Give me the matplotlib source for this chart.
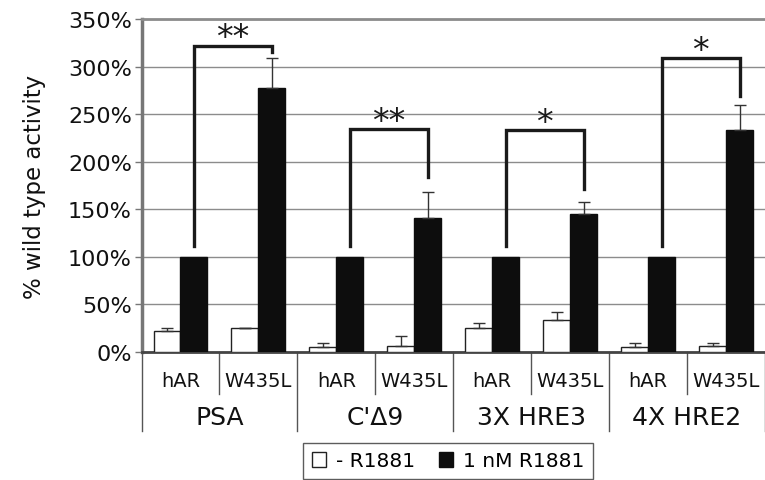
import numpy as np
import matplotlib
matplotlib.use("Agg")
import matplotlib.pyplot as plt
from matplotlib.patches import Patch

groups = ["PSA", "C'Δ9", "3X HRE3", "4X HRE2"]
subs = ["hAR", "W435L"]

no_r1881 = [22, 25, 5, 6, 25, 33.5, 5.5, 6]
no_r1881_err = [3, 0.5, 4.5, 11, 6, 8.5, 4, 3.5]
with_r1881 = [100, 277.5, 100, 141, 100, 145.5, 100, 233]
with_r1881_err = [0, 32, 0, 27, 0, 12.5, 0, 27]

# significance brackets: (group index, top, right leg end, label)
brackets = [(0, 322, 315, "**"), (1, 234, 184, "**"), (2, 233, 171, "*"), (3, 309, 269, "*")]

W, H = 765, 481
fig = plt.figure(figsize=(W / 100, H / 100), dpi=100)
ax = fig.add_axes([141.5 / W, 128 / H, (W - 141.5) / W, 333 / H])

n = len(no_r1881)
x = np.arange(n) + 0.5
bw = 0.346

ax.bar(x - bw / 2, no_r1881, bw, color="white", edgecolor="#222222", linewidth=1, zorder=3)
ax.bar(x + bw / 2, with_r1881, bw, color="#0d0d0d", edgecolor="#0d0d0d", linewidth=1, zorder=3)
ax.errorbar(x - bw / 2, no_r1881, yerr=[np.zeros(n), no_r1881_err], fmt="none",
            ecolor="#333333", elinewidth=1, capsize=4, capthick=1, zorder=4)
errmask = np.array(with_r1881_err) > 0
ax.errorbar((x + bw / 2)[errmask], np.array(with_r1881)[errmask],
            yerr=[np.zeros(errmask.sum()), np.array(with_r1881_err)[errmask]], fmt="none",
            ecolor="#333333", elinewidth=1, capsize=4, capthick=1, zorder=4)

for g, top, rend, lab in brackets:
    xl = x[2 * g] + bw / 2
    xr = x[2 * g + 1] + bw / 2
    ax.plot([xl, xl, xr, xr], [111, top, top, rend], color="#1a1a1a", lw=2.4,
            solid_joinstyle="miter", zorder=5, clip_on=False)
    ax.text((xl + xr) / 2, top - 9, lab, ha="center", va="bottom", fontsize=24, color="#1a1a1a")

ax.set_xlim(0, n)
ax.set_ylim(0, 350)
ax.set_yticks(np.arange(0, 351, 50))
ax.set_yticklabels([f"{v}%" for v in range(0, 351, 50)], fontsize=16, color="#111111")
ax.yaxis.grid(True, color="#8c8c8c", lw=1, zorder=0)
ax.set_axisbelow(True)
ax.tick_params(axis="y", length=5, width=1, color="#777777", pad=2)
ax.set_xticks([])
ax.set_ylabel("% wild type activity", fontsize=16.5, color="#111111", labelpad=16)

ax.spines["right"].set_visible(False)
ax.spines["top"].set_color("#8c8c8c")
ax.spines["top"].set_linewidth(2)
ax.spines["left"].set_color("#777777")
ax.spines["left"].set_linewidth(2.5)
ax.spines["bottom"].set_color("#444444")
ax.spines["bottom"].set_linewidth(2)

tr = ax.get_xaxis_transform()
for i in range(n + 1):
    depth = -0.237 if i % 2 == 0 else -0.126
    ax.plot([i, i], [0, depth], transform=tr, color="#555555", lw=1, clip_on=False)
for i in range(n):
    ax.text(i + 0.5, -0.087, subs[i % 2], transform=tr, ha="center", va="center",
            fontsize=14, color="#111111")
for g, name in enumerate(groups):
    ax.text(2 * g + 1, -0.195, name, transform=tr, ha="center", va="center",
            fontsize=18, color="#111111")

handles = [Patch(facecolor="white", edgecolor="#222222", label="- R1881"),
           Patch(facecolor="#0d0d0d", edgecolor="#0d0d0d", label="1 nM R1881")]
leg = fig.legend(handles=handles, loc="center", bbox_to_anchor=(448 / W, 19 / H), ncol=2,
                 fontsize=14.5, frameon=True, fancybox=False, edgecolor="#333333",
                 handlelength=0.7, handleheight=0.7, handletextpad=0.5, columnspacing=1.2,
                 borderpad=0.4)
leg.get_frame().set_linewidth(1)

fig.savefig("out.png", dpi=100)
